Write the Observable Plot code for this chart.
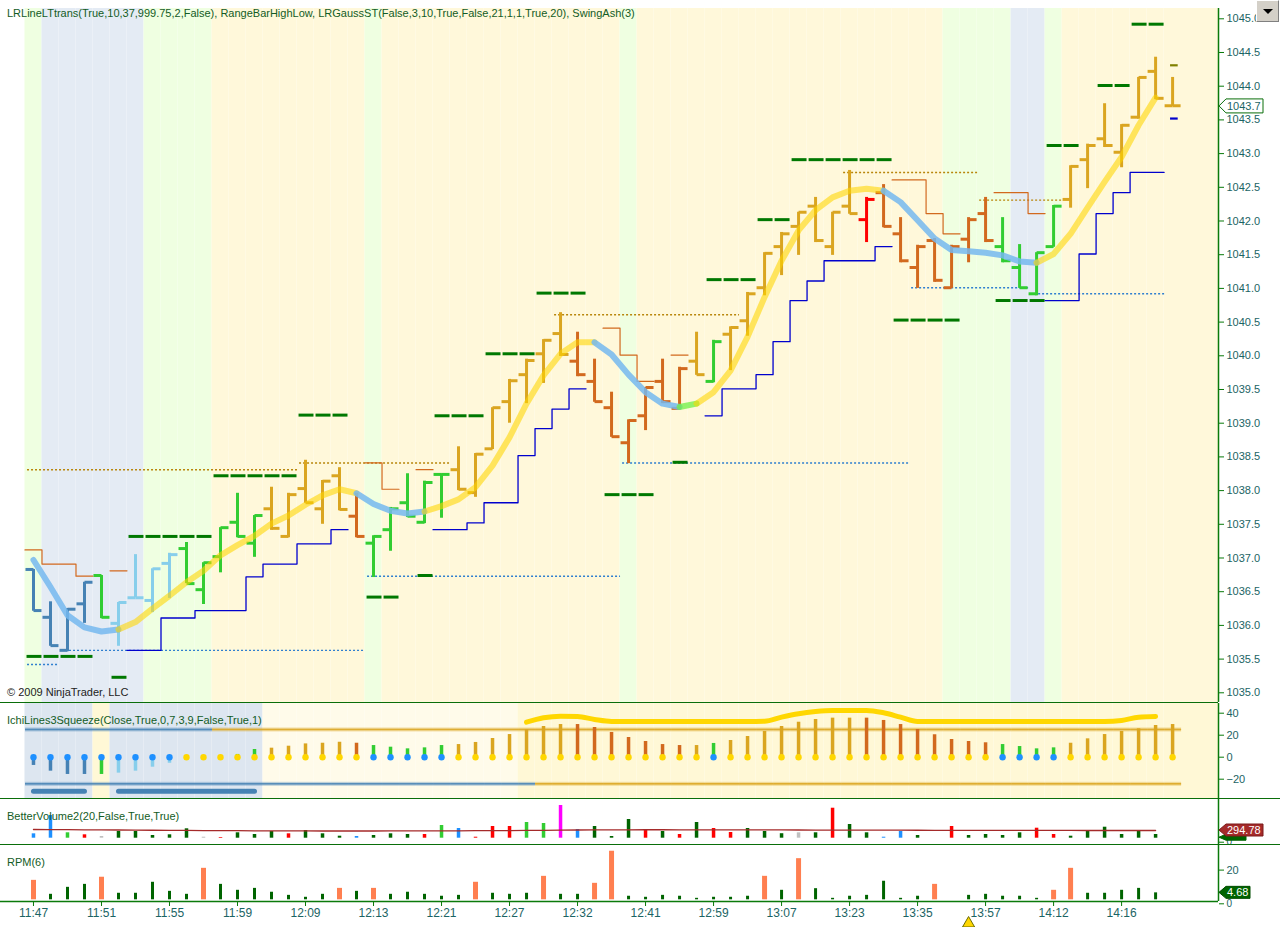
<!DOCTYPE html>
<html><head><meta charset="utf-8">
<script src="https://cdn.jsdelivr.net/npm/d3@7"></script>
<script src="https://cdn.jsdelivr.net/npm/@observablehq/plot@0.6"></script>
<style>
body{margin:0;background:#fff;}
#wrap{position:relative;width:1280px;height:927px;overflow:hidden;font-family:"Liberation Sans",Arial,sans-serif;background:#fff;}
#wrap svg{position:absolute;left:0;}
.lbl{position:absolute;font-size:11px;color:#135c25;white-space:nowrap;line-height:12px;}
.sep{position:absolute;left:0;height:1.5px;background:#0a6e0a;}
#btn{position:absolute;left:1256px;top:0;width:23px;height:22px;background:#d4d0c8;border:1px solid #808080;border-top-color:#fff;border-left-color:#fff;box-sizing:border-box;}
#btn:after{content:"";position:absolute;left:6px;top:8px;border-left:5px solid transparent;border-right:5px solid transparent;border-top:5px solid #000;}
</style></head><body><div id="wrap"></div>
<script>
// ---------------- DATA ----------------
const timeLabels = ["11:47","11:51","11:55","11:59","12:09","12:13","12:21","12:27","12:32","12:41","12:59","13:07","13:23","13:35","13:57","14:12","14:16"];
const timeLabelBars = [0,4,8,12,16,20,24,28,32,36,40,44,48,52,56,60,64];
const priceTicks = [1035.0,1035.5,1036.0,1036.5,1037.0,1037.5,1038.0,1038.5,1039.0,1039.5,1040.0,1040.5,1041.0,1041.5,1042.0,1042.5,1043.0,1043.5,1044.0,1044.5,1045.0];
const ichiTicks = [40,20,0,-20];
const volTicks = [0];
const rpmTicks = [20,0];

const open  = [1036.83,1036.12,1035.63,1036.32,1036.74,1036.03,1036.41,1036.37,1036.92,1037.14,1036.53,1037.02,1037.53,1037.22,1037.73,1037.32,1038.03,1037.73,1038.22,1037.62,1037.22,1037.42,1037.82,1037.53,1038.24,1038.31,1037.97,1038.62,1039.32,1039.72,1040.03,1040.33,1039.92,1039.62,1039.23,1038.71,1039.11,1039.62,1039.22,1039.92,1039.62,1040.32,1040.52,1041.01,1041.62,1041.92,1042.22,1041.62,1042.22,1042.02,1042.42,1041.81,1041.31,1041.71,1041.01,1041.73,1042.11,1041.62,1041.31,1040.92,1041.62,1042.32,1042.91,1043.22,1043.02,1043.54,1044.22,1043.71];
const high  = [1036.83,1036.35,1036.25,1036.64,1036.74,1036.34,1037.05,1036.84,1037.07,1037.23,1036.93,1037.45,1037.96,1037.63,1038.05,1037.96,1038.45,1038.15,1038.34,1037.96,1037.33,1037.75,1038.25,1038.14,1038.25,1038.65,1038.55,1039.23,1039.65,1039.95,1040.24,1040.64,1040.35,1039.95,1039.46,1039.05,1039.53,1039.95,1039.83,1040.35,1040.23,1040.43,1040.94,1041.53,1041.83,1042.13,1042.35,1042.13,1042.75,1042.35,1042.54,1042.05,1041.64,1041.74,1041.64,1042.05,1042.35,1042.05,1041.65,1041.53,1042.23,1042.82,1043.14,1043.74,1043.43,1044.13,1044.43,1044.13];
const low   = [1036.21,1035.69,1035.61,1036.03,1036.10,1035.69,1036.41,1036.19,1036.40,1036.62,1036.31,1036.78,1037.30,1037.01,1037.41,1037.30,1037.81,1037.50,1037.70,1037.30,1036.71,1037.10,1037.60,1037.51,1037.59,1038.00,1037.90,1038.61,1039.00,1039.29,1039.59,1039.99,1039.69,1039.31,1038.79,1038.40,1038.89,1039.29,1039.20,1039.71,1039.60,1039.78,1040.29,1040.89,1041.19,1041.49,1041.68,1041.49,1042.10,1041.68,1041.90,1041.38,1041.00,1041.09,1041.00,1041.38,1041.68,1041.38,1041.00,1040.89,1041.61,1042.19,1042.48,1043.09,1042.79,1043.51,1043.80,1043.70];
const close = [1036.22,1035.70,1036.24,1036.64,1036.12,1036.34,1036.41,1036.84,1037.05,1036.62,1036.93,1037.45,1037.32,1037.63,1037.44,1037.94,1037.82,1038.14,1037.72,1037.32,1037.32,1037.73,1037.62,1038.12,1038.24,1038.02,1038.54,1039.23,1039.63,1039.93,1040.23,1040.02,1039.72,1039.32,1038.80,1039.04,1039.53,1039.32,1039.81,1039.72,1040.21,1040.42,1040.92,1041.52,1041.81,1042.13,1041.71,1042.13,1042.11,1042.32,1041.92,1041.41,1041.62,1041.12,1041.62,1042.02,1041.71,1041.41,1041.01,1041.53,1042.22,1042.81,1043.12,1043.12,1043.42,1044.13,1043.82,1043.71];
const barColor = ["sb","sb","sb","sb","lg","ls","ls","ls","ls","lg","lg","lg","lg","lg","gr","gr","gr","gr","gr","ch","lg","lg","lg","lg","lg","gr","gr","gr","gr","gr","gr","gr","ch","ch","ch","ch","ch","ch","ch","gr","lg","gr","gr","gr","gr","gr","gr","gr","gr","rd","ch","ch","ch","ch","ch","ch","ch","lg","lg","lg","lg","gr","gr","gr","gr","gr","gr","gr"];
const mainBg = ["g","b","b","b","b","b","b","g","g","g","g","y","y","y","y","y","y","y","y","y","g","y","y","y","y","y","y","y","y","y","y","y","y","y","y","g","y","y","y","y","y","y","y","y","y","y","y","y","y","y","y","y","y","y","g","g","g","g","b","b","g","y","y","y","y","y","y","y"];

// LRGaussST smoothed line (bars 0..66) and trend of each segment
const lrg = [1036.97,1036.57,1036.15,1035.97,1035.91,1035.94,1036.05,1036.25,1036.44,1036.64,1036.81,1037.04,1037.19,1037.33,1037.51,1037.63,1037.79,1037.93,1038.02,1037.96,1037.80,1037.70,1037.66,1037.69,1037.77,1037.87,1038.05,1038.37,1038.79,1039.29,1039.71,1040.03,1040.20,1040.20,1040.02,1039.72,1039.46,1039.29,1039.24,1039.29,1039.46,1039.78,1040.28,1040.87,1041.41,1041.86,1042.16,1042.35,1042.45,1042.48,1042.45,1042.28,1042.01,1041.74,1041.57,1041.55,1041.53,1041.49,1041.40,1041.38,1041.51,1041.81,1042.20,1042.58,1042.95,1043.42,1043.83];
const lrgTrend = ["dn","dn","dn","dn","dn","up","up","up","up","up","up","up","up","up","up","up","up","up","up","dn","dn","dn","dn","up","up","up","up","up","up","up","up","up","up","dn","dn","dn","dn","dn","nt","up","up","up","up","up","up","up","up","up","up","up","dn","dn","dn","dn","dn","dn","dn","dn","dn","up","up","up","up","up","up","up"];

// trailing stops (null = not drawn)
const stopLong  = [null,null,null,null,null,null,1035.63,1035.63,1036.11,1036.11,1036.22,1036.22,1036.22,1036.72,1036.91,1036.91,1037.21,1037.21,1037.42,null,null,null,null,null,1037.42,1037.42,1037.52,1037.82,1037.82,1038.52,1038.92,1039.21,1039.51,null,null,null,null,null,null,null,1039.11,1039.51,1039.51,1039.72,1040.21,1040.82,1041.11,1041.41,1041.41,1041.41,1041.62,null,null,null,null,null,null,null,null,null,1040.82,1040.82,1041.51,1042.11,1042.42,1042.72,1042.72,null];
const stopShort = [1037.12,1036.91,1036.91,1036.73,null,1036.81,null,null,null,null,null,null,null,null,null,null,null,null,null,null,1038.41,1038.02,null,1038.31,null,null,null,null,null,null,null,null,null,null,1040.41,1040.01,1039.62,null,1040.01,null,null,null,null,null,null,null,null,null,null,null,null,1042.61,1042.61,1042.11,1041.81,null,null,1042.42,1042.42,1042.11,null,null,null,null,null,null,null,null];

// SwingAsh dashed levels
const swingFrom  = [0,5,6,11,16,20,23,24,27,30,34,38,40,43,45,51,57,60,63,65];
const swingTo    = [3,5,10,15,18,21,23,26,29,32,36,38,42,44,50,54,59,61,64,66];
const swingPrice = [1035.54,1035.23,1037.32,1038.22,1039.12,1036.42,1036.74,1039.11,1040.03,1040.93,1037.94,1038.42,1041.13,1042.02,1042.91,1040.53,1040.82,1043.12,1044.01,1044.92];

// dotted support / resistance lines
const supFrom = [0,2,20,35,52,59], supTo = [1,19,34,51,58,66];
const supPrice = [1035.42,1035.63,1036.73,1038.41,1041.01,1040.92];
const resFrom = [0,16,31,48,56], resTo = [15,24,41,55,60];
const resPrice = [1038.31,1038.41,1040.61,1042.72,1042.31];

// RangeBarHighLow projections for the open bar
const projBar = 67, projHigh = 1044.31, projLow = 1043.52, lastPrice = 1043.7;

// IchiLines3Squeeze
const ichiHist = [-7.5,-12.7,-15.7,-15.7,-15.7,-14.5,-12.7,-9.1,-5.5,-2.0,0,0,2.5,7.0,8.2,10.0,12.1,12.7,13.6,12.7,10.6,9.1,7.6,8.5,10.6,11.5,13.4,17.0,20.6,24.9,27.9,29.7,29.7,27.0,22.5,17.9,14.3,11.5,10.6,10.6,12.5,15.2,18.8,23.4,27.9,31.8,34.3,35.5,35.5,35.5,33.4,29.7,25.2,20.4,16.1,14.3,13.1,11.5,9.7,7.6,8.5,12.7,16.7,20.6,23.4,25.8,28.8,29.7];
const ichiColor = ["sb","sb","sb","sb","lg","ls","ls","ls","ls","lg","lg","lg","lg","lg","gr","gr","gr","gr","gr","ch","lg","lg","lg","lg","lg","gr","gr","gr","gr","gr","gr","gr","ch","ch","ch","ch","ch","ch","ch","gr","lg","gr","gr","gr","gr","gr","gr","gr","gr","ch","ch","ch","ch","ch","ch","ch","ch","lg","lg","lg","lg","gr","gr","gr","gr","gr","gr","gr"];
const ichiDot = ["db","db","db","db","db","db","db","db","db","gd","gd","gd","gd","gd","gd","gd","gd","gd","gd","gd","db","db","db","db","db","gd","gd","gd","gd","gd","gd","gd","gd","gd","gd","gd","gd","gd","gd","gd","db","gd","gd","gd","gd","gd","gd","gd","gd","gd","gd","gd","gd","gd","gd","gd","gd","db","db","db","db","gd","gd","gd","gd","gd","gd","gd"];
const ichiGold = [null,null,null,null,null,null,null,null,null,null,null,null,null,null,null,null,null,null,null,null,null,null,null,null,null,null,null,null,null,31.8,35.8,37.3,37.0,34.3,32.5,32.5,32.5,32.5,32.5,32.5,32.5,32.5,32.5,32.7,36.4,39.5,41.5,42.5,42.5,42.5,40.4,36.4,32.5,32.5,32.5,32.5,32.5,32.5,32.5,32.5,32.5,32.5,32.5,32.5,33.4,36.4,37.0];
const ichiSqueeze = [-31,-31,-31,-31,null,-31,-31,-31,-31,-31,-31,-31,-31,-31,null,null,null,null,null,null,null,null,null,null,null,null,null,null,null,null,null,null,null,null,null,null,null,null,null,null,null,null,null,null,null,null,null,null,null,null,null,null,null,null,null,null,null,null,null,null,null,null,null,null,null,null,null,null];
const ichiUpper = 25.2, ichiLower = -24.2;
const ichiUpperState = ["sb","sb","sb","sb","sb","sb","sb","sb","sb","sb","sb","gr","gr","gr","gr","gr","gr","gr","gr","gr","gr","gr","gr","gr","gr","gr","gr","gr","gr","gr","gr","gr","gr","gr","gr","gr","gr","gr","gr","gr","gr","gr","gr","gr","gr","gr","gr","gr","gr","gr","gr","gr","gr","gr","gr","gr","gr","gr","gr","gr","gr","gr","gr","gr","gr","gr","gr","gr"];
const ichiLowerState = ["sb","sb","sb","sb","sb","sb","sb","sb","sb","sb","sb","sb","sb","sb","sb","sb","sb","sb","sb","sb","sb","sb","sb","sb","sb","sb","sb","sb","sb","sb","gr","gr","gr","gr","gr","gr","gr","gr","gr","gr","gr","gr","gr","gr","gr","gr","gr","gr","gr","gr","gr","gr","gr","gr","gr","gr","gr","gr","gr","gr","gr","gr","gr","gr","gr","gr","gr","gr"];
const ichiBg = ["b","b","b","b","y","b","b","b","b","b","b","b","b","b","p","p","p","p","p","p","p","p","p","p","p","p","p","p","p","y","y","y","y","y","y","y","y","y","y","y","y","y","y","y","y","y","y","y","y","y","y","y","y","y","y","y","y","y","y","y","y","y","y","y","y","y","y","y"];

// BetterVolume2 (bars 0..66)
const vol = [168,869,207,130,65,256,256,103,130,360,38,27,207,142,256,168,295,168,77,65,103,168,142,142,486,371,38,448,448,601,563,1252,333,448,65,716,322,256,142,601,371,218,371,256,172,207,207,1148,524,207,38,256,103,0,448,103,142,103,207,383,142,77,295,421,142,295,142];
const volColor = ["db","db","lg","rd","sv","dg","dg","dg","dg","dg","sv","rd","dg","dg","dg","rd","dg","dg","dg","db","dg","dg","dg","rd","lg","db","rd","rd","rd","lg","lg","mg","db","dg","dg","dg","rd","dg","rd","dg","rd","rd","dg","dg","dg","sv","dg","rd","dg","dg","db","db","dg","dg","rd","dg","dg","dg","dg","rd","rd","dg","dg","dg","dg","dg","dg"];
const volAvg = [333,330,326,322,318,314,310,305,300,296,292,290,287,284,282,280,278,276,275,275,276,277,278,279,281,284,287,290,294,298,303,310,314,318,320,322,323,323,322,322,321,320,319,318,317,315,313,312,311,310,308,306,304,302,301,300,299,298,297,296,296,296,295,295,295,295,294.78];

// RPM(6) (bars 0..66)
const rpm = [13.1,3.7,8.4,10.4,15.2,4.4,4.4,11.8,5.7,3.7,21.2,10.4,6.4,7.7,5.1,3.0,1.7,3.7,7.7,5.7,7.7,3.7,5.1,3.7,2.4,3.0,11.8,4.4,3.7,4.4,15.8,3.7,3.7,11.1,32.7,2.4,1.7,3.0,2.4,1.0,1.7,1.7,2.4,15.8,6.4,27.7,7.5,1.0,2.4,3.0,12.5,1.0,2.4,10.4,0,3.0,3.7,2.4,2.4,1.0,6.4,21.2,4.4,4.4,6.4,7.7,4.68];
const rpmColor = ["co","dg","dg","dg","co","dg","dg","dg","dg","dg","co","dg","dg","dg","dg","dg","dg","dg","co","dg","co","dg","dg","dg","dg","dg","co","dg","dg","dg","co","dg","dg","co","co","dg","dg","dg","dg","dg","dg","dg","dg","co","dg","co","dg","dg","dg","dg","dg","dg","dg","co","dg","dg","dg","dg","dg","dg","co","co","dg","dg","dg","dg","dg"];
const drawMarkerBars = [55];

// ---------------- STYLE ----------------
const pal = {sb:"#4682B4", ls:"#87CEEB", lg:"#32CD32", gr:"#DAA520", ch:"#D2691E", rd:"#FF0000", db:"#1E90FF", dg:"#006400", sv:"#C0C0C0", mg:"#FF00FF", co:"#FF7F50", gd:"#FFD700"};
const bgMainPal = {g:"#EFFFE1", b:"#E4EBF4", y:"#FFF8DA"};
const bgIchiPal = {b:"#DDE6F0", y:"#FFF8D6", p:"#FFFBEA"};
const trendPal = {dn:"rgba(118,184,238,0.85)", up:"rgba(255,214,0,0.58)", nt:"rgba(110,240,70,0.75)"};
const AX = "#0a7a0a", AXT = "#1b6464";
const X_MIN = -1.94, X_MAX = 69.7;
const W = 1280, MR = 62;
const font = {fontFamily:"'Liberation Sans', Arial, sans-serif", fontSize:"11px", background:"transparent", overflow:"visible"};

const wrap = document.getElementById("wrap");
function place(svg, top){ svg.style.top = top + "px"; wrap.appendChild(svg); return svg; }

function bgRects(stateArr, palette){
  return stateArr.map((s,i)=>({x1:i-0.5, x2: i===stateArr.length-1 ? X_MAX : i+0.5, fill:palette[s]}));
}
function stepPoints(vals){
  const pts=[]; let run=0, prev=false;
  vals.forEach((v,i)=>{ if(v==null){ if(prev) run++; prev=false; return; }
    pts.push({x:i-0.5,y:v,run},{x:i+0.5,y:v,run}); prev=true; });
  return pts;
}
function perBar(from,to,price){
  const out=[]; from.forEach((f,k)=>{ for(let i=f;i<=to[k];i++) out.push({i, y:price[k]}); }); return out;
}

// ---------------- MAIN PANEL ----------------
const bars = open.map((o,i)=>({i, o, h:high[i], l:low[i], c:close[i], col:pal[barColor[i]]}));
const lrgPts=[]; { let run=-1, cur=null;
  for(let s=0;s<lrgTrend.length;s++){
    if(lrgTrend[s]!==cur){ run++; cur=lrgTrend[s]; lrgPts.push({x:s,y:lrg[s],run,color:trendPal[cur]}); }
    lrgPts.push({x:s+1,y:lrg[s+1],run,color:trendPal[cur]});
  } }
const swingDash = perBar(swingFrom, swingTo, swingPrice);
const sup = supFrom.map((f,k)=>({x1:f-0.38, x2:supTo[k]+0.5, y:supPrice[k]}));
const res = resFrom.map((f,k)=>({x1:f-0.38, x2:resTo[k]+0.5, y:resPrice[k]}));

const H_MAIN = 702, MT_MAIN = 8;
const yMain = [1034.856, 1045.1528];
const mainChart = Plot.plot({
  width:W, height:H_MAIN, marginTop:MT_MAIN, marginBottom:0, marginLeft:0, marginRight:MR,
  x:{domain:[X_MIN,X_MAX], axis:null},
  y:{domain:yMain, axis:null},
  color:{type:"identity"},
  style:font,
  marks:[
    Plot.rect(bgRects(mainBg, bgMainPal), {x1:"x1", x2:"x2", fill:"fill"}),
    Plot.link(sup, {x1:"x1", x2:"x2", y1:"y", y2:"y", stroke:"#2f7fcf", strokeWidth:1.4, strokeDasharray:"2,2"}),
    Plot.link(res, {x1:"x1", x2:"x2", y1:"y", y2:"y", stroke:"#b8860b", strokeWidth:1.4, strokeDasharray:"2,2"}),
    Plot.link(swingDash, {x1:d=>d.i-0.41, x2:d=>d.i+0.47, y1:"y", y2:"y", stroke:"#007800", strokeWidth:3}),
    Plot.line(stepPoints(stopLong), {x:"x", y:"y", z:"run", stroke:"#0000CD", strokeWidth:1.3}),
    Plot.line(stepPoints(stopShort), {x:"x", y:"y", z:"run", stroke:"#D2691E", strokeWidth:1.2}),
    Plot.ruleX(bars, {x:"i", y1:"l", y2:"h", stroke:"col", strokeWidth:3}),
    Plot.link(bars, {x1:d=>d.i-0.47, x2:d=>d.i, y1:"o", y2:"o", stroke:"col", strokeWidth:3}),
    Plot.link(bars, {x1:d=>d.i, x2:d=>d.i+0.47, y1:"c", y2:"c", stroke:"col", strokeWidth:3}),
    Plot.line(lrgPts, {x:"x", y:"y", z:"run", stroke:"color", strokeWidth:6, strokeLinecap:"round", strokeLinejoin:"round"}),
    Plot.link([{y:projHigh, c:"#808000"},{y:projLow, c:"#0000CD"}], {x1:()=>projBar-0.15, x2:()=>projBar+0.3, y1:"y", y2:"y", stroke:"c", strokeWidth:2.2}),
    Plot.ruleX([X_MAX], {stroke:AX, strokeWidth:1.5}),
    Plot.axisY(priceTicks, {anchor:"right", tickFormat:d3.format(".1f"), tickSize:5, tickPadding:3, fontSize:11, color:AXT, stroke:AX, label:null})
  ]
});
place(mainChart, 0);

// ---------------- ICHI PANEL ----------------
const ichi = ichiHist.map((v,i)=>({i, v, col:pal[ichiColor[i]], dot:pal[ichiDot[i]]}));
const lvlSegs = [];
ichiUpperState.forEach((s,i)=>lvlSegs.push({i, y:ichiUpper, c:pal[s]}));
ichiLowerState.forEach((s,i)=>lvlSegs.push({i, y:ichiLower, c:pal[s]}));
const ichiChart = Plot.plot({
  width:W, height:97, marginTop:1, marginBottom:1, marginLeft:0, marginRight:MR,
  x:{domain:[X_MIN,X_MAX], axis:null},
  y:{domain:[-37.55,48.82], axis:null},
  color:{type:"identity"},
  style:font,
  marks:[
    Plot.rect(bgRects(ichiBg, bgIchiPal), {x1:"x1", x2:"x2", fill:"fill"}),
    Plot.link(lvlSegs, {x1:d=>d.i-0.5, x2:d=>d.i+0.5, y1:"y", y2:"y", stroke:"c", strokeWidth:4, strokeOpacity:0.35}),
    Plot.link(lvlSegs, {x1:d=>d.i-0.5, x2:d=>d.i+0.5, y1:"y", y2:"y", stroke:"c", strokeWidth:1.6, strokeOpacity:0.85}),
    Plot.line(ichiSqueeze.map((v,i)=>({i,v})), {x:"i", y:"v", stroke:"#4682B4", strokeWidth:5}),
    Plot.ruleX(ichi, {x:"i", y1:0, y2:"v", stroke:"col", strokeWidth:3.5}),
    Plot.dot(ichi, {x:"i", y:0, r:3.2, fill:"dot", stroke:null}),
    Plot.line(ichiGold.map((v,i)=>({i,v})), {x:"i", y:"v", stroke:"#FFD700", strokeWidth:5, curve:"monotone-x"}),
    Plot.ruleX([X_MAX], {stroke:AX, strokeWidth:1.5}),
    Plot.axisY(ichiTicks, {anchor:"right", tickSize:5, tickPadding:3, fontSize:11, color:AXT, stroke:AX, label:null})
  ]
});
place(ichiChart, 702);

// ---------------- VOLUME PANEL ----------------
const volData = vol.map((v,i)=>({i, v, col:pal[volColor[i]]}));
const yVol = [-241, 1520];
const volChart = Plot.plot({
  width:W, height:46, marginTop:0, marginBottom:0, marginLeft:0, marginRight:MR,
  x:{domain:[X_MIN,X_MAX], axis:null},
  y:{domain:yVol, axis:null},
  color:{type:"identity"},
  style:font,
  marks:[
    Plot.ruleX(volData, {x:"i", y1:0, y2:"v", stroke:"col", strokeWidth:3.5}),
    Plot.line(volAvg.map((v,i)=>({i,v})), {x:"i", y:"v", stroke:"#A52A2A", strokeWidth:1.3}),
    Plot.ruleX([X_MAX], {stroke:AX, strokeWidth:1.5}),
    Plot.axisY(volTicks, {anchor:"right", tickSize:5, tickPadding:3, fontSize:10, color:AXT, stroke:AX, label:null, dy:4})
  ]
});
place(volChart, 798);

// ---------------- RPM PANEL + TIME AXIS ----------------
const rpmData = rpm.map((v,i)=>({i, v, c:rpmColor[i]}));
const yRpm = [-1.14, 37.24];
const rpmChart = Plot.plot({
  width:W, height:83, marginTop:0, marginBottom:26, marginLeft:0, marginRight:MR,
  x:{domain:[X_MIN,X_MAX], axis:null},
  y:{domain:yRpm, axis:null},
  color:{type:"identity"},
  style:font,
  marks:[
    Plot.ruleX(rpmData.filter(d=>d.c==="dg"), {x:"i", y1:0, y2:"v", stroke:pal.dg, strokeWidth:3}),
    Plot.ruleX(rpmData.filter(d=>d.c==="co"), {x:"i", y1:0, y2:"v", stroke:pal.co, strokeWidth:5}),
    Plot.ruleY([yRpm[0]], {x1:X_MIN, x2:X_MAX, stroke:AX, strokeWidth:1.5}),
    Plot.ruleX([X_MAX], {stroke:AX, strokeWidth:1.5}),
    Plot.axisY(rpmTicks.filter(t=>t!==0), {anchor:"right", tickSize:5, tickPadding:3, fontSize:11, color:AXT, stroke:AX, label:null}),
    Plot.axisY(rpmTicks.filter(t=>t===0), {anchor:"right", tickSize:5, tickPadding:3, fontSize:10, color:AXT, stroke:AX, label:null, dy:4}),
    Plot.axisX(timeLabelBars, {anchor:"bottom", tickSize:5, tickPadding:2, fontSize:12, color:AXT, stroke:AX, label:null,
      tickFormat:d=>timeLabels[timeLabelBars.indexOf(d)]}),
    Plot.dot(drawMarkerBars, {x:d=>d, frameAnchor:"bottom", dy:22, symbol:"triangle", r:4.5, fill:"#FFD700", stroke:"#6b6b00", strokeWidth:1})
  ]
});
place(rpmChart, 844);

// ---------------- value markers on the right axis ----------------
function marker(svg, y, text, fill, stroke, txtColor, w, h){
  const x0 = d3.scaleLinear([X_MIN,X_MAX],[0,W-MR])(X_MAX) + 1;
  const g = d3.select(svg).append("g");
  g.append("path").attr("d",`M${x0},${y}L${x0+7},${y-h/2}H${x0+7+w}V${y+h/2}H${x0+7}Z`)
    .attr("fill",fill).attr("stroke",stroke).attr("stroke-width",1);
  if (text) g.append("text").attr("x",x0+8).attr("y",y).attr("dy","0.36em").attr("text-anchor","start")
    .attr("fill",txtColor).attr("font-size",11).attr("font-family","'Liberation Sans', Arial, sans-serif").text(text);
}
const yMainS = d3.scaleLinear(yMain, [H_MAIN, MT_MAIN]);
marker(mainChart, yMainS(lastPrice), d3.format(".1f")(lastPrice), "#fff", "#0a6e0a", AXT, 37, 14);
const yVolS = d3.scaleLinear(yVol, [46, 0]);
marker(volChart, yVolS(0) - 0.5, "", "#006400", "#006400", "#fff", 20, 6);
marker(volChart, yVolS(volAvg[volAvg.length-1]), d3.format(".2f")(volAvg[volAvg.length-1]), "#A52A2A", "#7a1a1a", "#fff", 37, 12);
const yRpmS = d3.scaleLinear(yRpm, [57, 0]);
marker(rpmChart, yRpmS(rpm[rpm.length-1]), d3.format(".2f")(rpm[rpm.length-1]), "#006400", "#004d00", "#fff", 24, 12);

// ---------------- texts & separators ----------------
function div(cls, css, text){ const d=document.createElement("div"); d.className=cls; Object.assign(d.style, css); if(text!=null) d.textContent=text; wrap.appendChild(d); return d; }
div("sep", {top:"701.5px", width:"1218px"});
div("sep", {top:"797.5px", width:"1280px"});
div("sep", {top:"843.5px", width:"1280px"});
div("lbl", {left:"7px", top:"7px"}, "LRLineLTtrans(True,10,37,999.75,2,False), RangeBarHighLow, LRGaussST(False,3,10,True,False,21,1,1,True,20), SwingAsh(3)");
div("lbl", {left:"7px", top:"686px", color:"#222"}, "© 2009 NinjaTrader, LLC");
div("lbl", {left:"7px", top:"714px"}, "IchiLines3Squeeze(Close,True,0,7,3,9,False,True,1)");
div("lbl", {left:"7px", top:"810px"}, "BetterVolume2(20,False,True,True)");
div("lbl", {left:"7px", top:"856px"}, "RPM(6)");
const b = document.createElement("div"); b.id="btn"; wrap.appendChild(b);
</script>
</body></html>
